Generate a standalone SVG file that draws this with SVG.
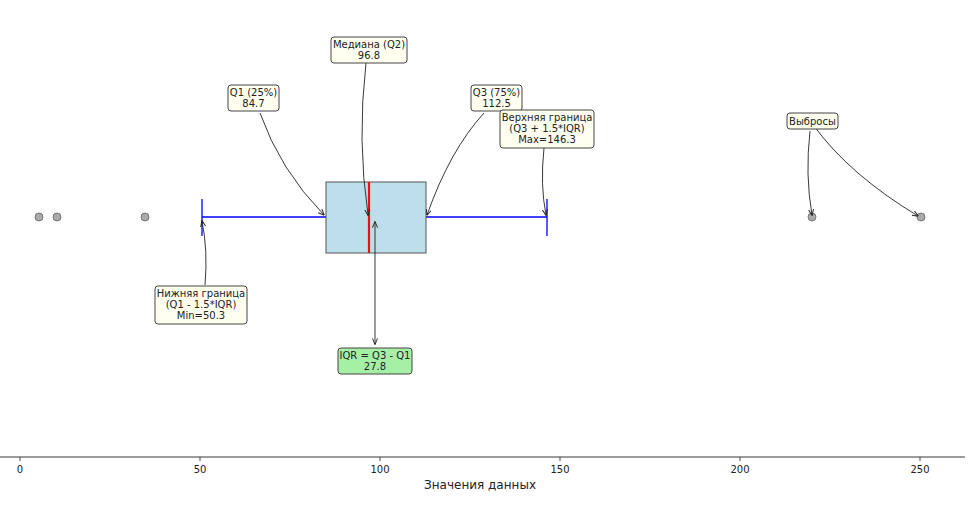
<svg xmlns="http://www.w3.org/2000/svg" width="968" height="505" viewBox="0 0 968 505">
<style>
text{font-family:"DejaVu Sans",sans-serif;font-size:10px;fill:#222;text-anchor:middle}
.lbl{fill:#fffff0;stroke:#444;stroke-width:1}
.ar{fill:none;stroke:#222;stroke-width:0.9;marker-end:url(#ah)}
.out{fill:#aaa;stroke:#666;stroke-width:0.8}
.tick{stroke:#222;stroke-width:0.8}
</style>
<defs>
<marker id="ah" viewBox="0 0 10 10" refX="9" refY="5" markerWidth="7" markerHeight="7" orient="auto-start-reverse"><path d="M0,1 L10,5 L0,9" fill="none" stroke="#222" stroke-width="1.5"/></marker>
</defs>
<rect width="968" height="505" fill="#fff"/>
<g id="box">
<line x1="202" y1="217" x2="326" y2="217" stroke="#0000ff" stroke-width="1.3"/>
<line x1="426" y1="217" x2="547" y2="217" stroke="#0000ff" stroke-width="1.3"/>
<line x1="202" y1="199" x2="202" y2="236" stroke="#0000ff" stroke-width="1.3"/>
<line x1="547" y1="199" x2="547" y2="236" stroke="#0000ff" stroke-width="1.3"/>
<rect x="326" y="182" width="100" height="71" fill="#bddfeb" stroke="#555" stroke-width="1"/>
<line x1="369" y1="182" x2="369" y2="253" stroke="#ee1111" stroke-width="2.2"/>
</g>
<g id="outliers">
<circle class="out" cx="39" cy="217" r="4"/>
<circle class="out" cx="57" cy="217" r="4"/>
<circle class="out" cx="145" cy="217" r="4"/>
<circle class="out" cx="812" cy="217" r="4"/>
<circle class="out" cx="921" cy="217" r="4"/>
</g>
<g id="connectors">
<path class="ar" d="M260,113 Q280,170 324,215"/>
<path class="ar" d="M366,63 Q357,140 368,215"/>
<path class="ar" d="M484,113 Q450,150 427,215"/>
<path class="ar" d="M544,148 Q540,185 546,215"/>
<path class="ar" d="M810,131 Q805,175 812,215"/>
<path class="ar" d="M814,126 Q850,175 918,216"/>
<path class="ar" d="M205,285 Q208,250 202,221"/>
<path d="M375,222 L375,344" fill="none" stroke="#222" stroke-width="0.9" marker-start="url(#ah)" marker-end="url(#ah)"/>
</g>
<g id="q1"><rect class="lbl" x="228" y="85" width="51" height="26" rx="3"/><text x="253.5" y="96">Q1 (25%)</text><text x="253.5" y="107">84.7</text></g>
<g id="median"><rect class="lbl" x="331" y="37" width="76" height="26" rx="3"/><text x="369" y="48">Медиана (Q2)</text><text x="369" y="59">96.8</text></g>
<g id="q3"><rect class="lbl" x="471" y="85" width="51" height="26" rx="3"/><text x="496.5" y="96">Q3 (75%)</text><text x="496.5" y="107">112.5</text></g>
<g id="upper"><rect class="lbl" x="500" y="110" width="94" height="38" rx="3"/><text x="547" y="121">Верхняя граница</text><text x="547" y="132">(Q3 + 1.5*IQR)</text><text x="547" y="143">Max=146.3</text></g>
<g id="outlbl"><rect class="lbl" x="787" y="113" width="51" height="16" rx="3"/><text x="812.5" y="125">Выбросы</text></g>
<g id="lower"><rect class="lbl" x="155" y="286" width="92" height="38" rx="3"/><text x="201" y="297">Нижняя граница</text><text x="201" y="308">(Q1 - 1.5*IQR)</text><text x="201" y="319">Min=50.3</text></g>
<g id="iqr"><rect x="338" y="348" width="74" height="26" rx="3" fill="#a6f0a6" stroke="#444" stroke-width="1"/><text x="375" y="359">IQR = Q3 - Q1</text><text x="375" y="370">27.8</text></g>
<g id="axis">
<line x1="0" y1="457" x2="965" y2="457" stroke="#222" stroke-width="0.9"/>
<line class="tick" x1="20" y1="457" x2="20" y2="461"/><text x="20" y="473">0</text>
<line class="tick" x1="200" y1="457" x2="200" y2="461"/><text x="200" y="473">50</text>
<line class="tick" x1="380" y1="457" x2="380" y2="461"/><text x="380" y="473">100</text>
<line class="tick" x1="560" y1="457" x2="560" y2="461"/><text x="560" y="473">150</text>
<line class="tick" x1="740" y1="457" x2="740" y2="461"/><text x="740" y="473">200</text>
<line class="tick" x1="920" y1="457" x2="920" y2="461"/><text x="920" y="473">250</text>
<text x="480" y="489" style="font-size:12px">Значения данных</text>
</g>
</svg>
